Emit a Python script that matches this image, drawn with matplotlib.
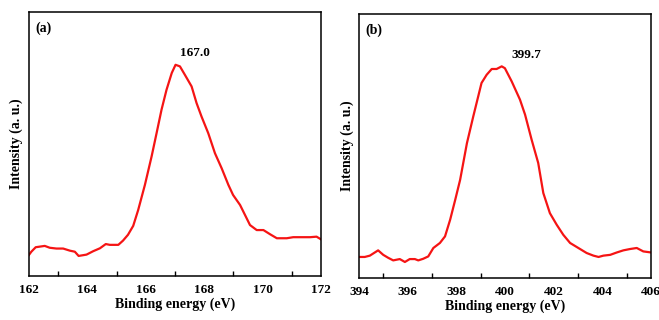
import numpy as np
import matplotlib
matplotlib.use("Agg")
import matplotlib.pyplot as plt
from matplotlib.ticker import MultipleLocator

plt.rcParams['font.family'] = ['Liberation Serif', 'DejaVu Serif']
plt.rcParams['font.weight'] = 'bold'

# S 2p region
s_energy = [162.0, 162.08, 162.23, 162.54, 162.71, 162.94, 163.17, 163.4, 163.57, 163.7,
            163.97, 164.2, 164.43, 164.63, 164.77, 165.06, 165.22, 165.39, 165.57, 165.74,
            165.97, 166.2, 166.37, 166.54, 166.71, 166.89, 167.02, 167.17, 167.34, 167.57,
            167.74, 167.91, 168.14, 168.37, 168.6, 168.83, 168.99, 169.23, 169.4, 169.57,
            169.8, 170.03, 170.26, 170.49, 170.83, 171.05, 171.29, 171.63, 171.85, 172.0]
s_intensity = [8.0, 9.2, 10.9, 11.4, 10.7, 10.4, 10.4, 9.6, 9.2, 7.6,
               8.1, 9.4, 10.5, 12.1, 11.8, 11.8, 13.4, 15.6, 19.0, 25.0,
               34.5, 45.3, 54.1, 63.0, 70.5, 76.9, 80.0, 79.4, 76.2, 71.8,
               65.5, 60.4, 54.1, 46.5, 40.8, 34.5, 30.7, 26.9, 23.1, 19.3,
               17.4, 17.4, 15.8, 14.3, 14.3, 14.7, 14.7, 14.7, 14.9, 13.9]

# N 1s region
n_energy = [394.0, 394.23, 394.44, 394.78, 394.99, 395.19, 395.4, 395.67, 395.88, 396.08,
            396.29, 396.43, 396.63, 396.84, 397.05, 397.32, 397.53, 397.74, 397.95, 398.15,
            398.43, 398.69, 399.03, 399.24, 399.45, 399.65, 399.86, 399.99, 400.27, 400.61,
            400.82, 401.09, 401.36, 401.57, 401.84, 402.12, 402.39, 402.67, 403.01, 403.35,
            403.63, 403.84, 404.04, 404.32, 404.59, 404.86, 405.13, 405.41, 405.68, 406.0]
n_intensity = [8.0, 8.0, 8.5, 10.5, 8.8, 7.7, 6.7, 7.2, 6.1, 7.2,
               7.2, 6.7, 7.3, 8.2, 11.4, 13.3, 15.8, 22.1, 29.7, 37.2,
               51.1, 61.2, 73.9, 77.0, 79.2, 79.2, 80.2, 79.5, 74.5, 67.6,
               61.9, 52.4, 43.6, 32.2, 24.6, 20.2, 16.4, 13.3, 11.4, 9.5,
               8.5, 8.0, 8.5, 8.8, 9.7, 10.5, 11.0, 11.4, 10.1, 9.7]

panels = [
    dict(x=s_energy, y=s_intensity, xlim=(162, 172), label="(a)", peak="167.0",
         peak_xy=(167.68, 84.4), rect=[0.044, 0.1375, 0.443, 0.825]),
    dict(x=n_energy, y=n_intensity, xlim=(394, 406), label="(b)", peak="399.7",
         peak_xy=(400.89, 84.6), rect=[0.545, 0.131, 0.443, 0.825]),
]

fig = plt.figure(figsize=(6.59, 3.2), dpi=100)
red = '#f51414'
for p in panels:
    ax = fig.add_axes(p['rect'])
    ax.plot(p['x'], p['y'], color=red, lw=1.6, solid_joinstyle='round')
    ax.set_xlim(*p['xlim'])
    ax.set_ylim(0, 100)
    ax.set_yticks([])
    ax.xaxis.set_major_locator(MultipleLocator(2))
    ax.tick_params(axis='x', which='major', length=0, pad=6, labelsize=9.5)
    ax.tick_params(axis='x', which='minor', direction='in', length=3.5, width=1)
    # tick marks only at the odd (unlabelled) positions
    lo, hi = p['xlim']
    ax.set_xticks([v for v in range(lo + 1, hi, 2)], minor=True)
    for lab in ax.get_xticklabels():
        lab.set_fontweight('bold')
    for s in ax.spines.values():
        s.set_linewidth(1.1)
    ax.set_xlabel("Binding energy (eV)", fontsize=10, fontweight='bold', labelpad=1)
    ax.set_ylabel("Intensity (a. u.)", fontsize=10, fontweight='bold', labelpad=4)
    ax.text(0.05, 0.94, p['label'], transform=ax.transAxes, fontsize=10,
            fontweight='bold', ha='center', va='center')
    ax.text(*p['peak_xy'], p['peak'], fontsize=9.5, fontweight='bold',
            ha='center', va='center')

fig.savefig("out.png", dpi=100, facecolor='white')
